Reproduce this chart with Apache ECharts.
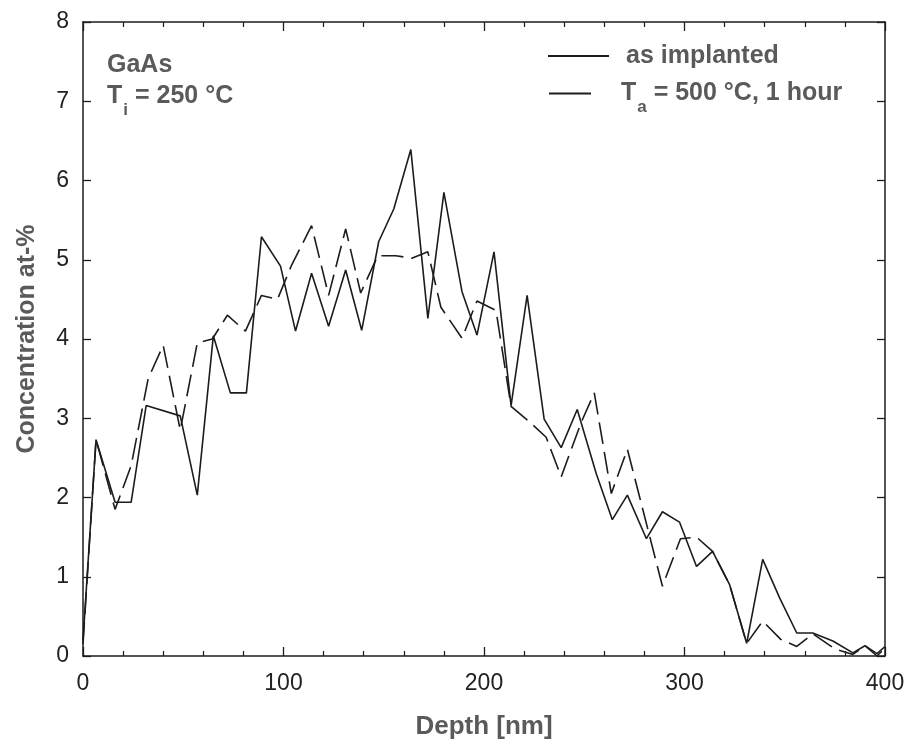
<!DOCTYPE html>
<html>
<head>
<meta charset="utf-8">
<script src="https://cdn.jsdelivr.net/npm/echarts@6/dist/echarts.min.js"></script>
<style>
html,body{margin:0;padding:0;background:#fff;}
#c{width:913px;height:745px;}
</style>
</head>
<body>
<div id="c"></div>
<script>
// Depth [nm] and concentration [at-%]
const asImplantedDepth = [0, 6.5, 16, 24, 31.5, 48.5, 57, 65, 73.5, 81.5, 89, 98.5, 106, 114, 122.5, 131, 139, 147.5, 155, 163.5, 172, 180, 189, 196.5, 205, 213.5, 221.5, 230, 238.5, 246.5, 256, 264, 271.5, 281, 289, 297.5, 306, 314, 322.5, 331, 339, 347.5, 356, 364, 374, 384, 390, 396, 400];
const asImplantedConc  = [0.2, 2.73, 1.94, 1.94, 3.16, 3.03, 2.03, 4.04, 3.32, 3.32, 5.29, 4.92, 4.1, 4.83, 4.16, 4.87, 4.11, 5.23, 5.64, 6.39, 4.26, 5.85, 4.6, 4.05, 5.1, 3.16, 4.55, 2.99, 2.63, 3.11, 2.3, 1.72, 2.03, 1.48, 1.82, 1.69, 1.13, 1.32, 0.9, 0.16, 1.22, 0.73, 0.29, 0.29, 0.19, 0.04, 0.13, 0.03, 0.12];

const annealedDepth = [0, 6.5, 16, 24, 32.5, 40, 48.5, 57, 64.5, 72, 81, 89, 97, 104, 114, 122.5, 131, 138.5, 147, 156, 164, 172, 178.5, 189, 196.5, 206, 213.5, 222, 231, 238.5, 248.5, 255, 263.5, 271.5, 289, 298, 306, 314, 322.5, 331, 339, 348, 356, 364, 375, 384, 390, 396, 400];
const annealedConc  = [0.15, 2.73, 1.85, 2.4, 3.5, 3.92, 2.85, 3.95, 4.0, 4.3, 4.1, 4.55, 4.5, 4.93, 5.43, 4.55, 5.39, 4.58, 5.05, 5.05, 5.02, 5.1, 4.4, 4.01, 4.48, 4.36, 3.15, 2.97, 2.76, 2.26, 2.95, 3.32, 2.05, 2.61, 0.88, 1.48, 1.5, 1.32, 0.9, 0.16, 0.44, 0.21, 0.12, 0.28, 0.09, 0.02, 0.13, 0.0, 0.1];

const seriesNames = ['as implanted', 'annealed'];
const xTicks = {min: 0, max: 400, interval: 100};
const yTicks = {min: 0, max: 8, interval: 1};

const FONT = '"Liberation Sans", Arial, sans-serif';
const GRAY = '#5a5a5a';
const INK = '#1c1c1c';

function pairs(xs, ys) { return xs.map((x, i) => [x, ys[i]]); }

const richMain = {fontSize: 25, fontWeight: 'bold', color: GRAY, fontFamily: FONT, lineHeight: 30, verticalAlign: 'middle'};
const richSub = {fontSize: 17, fontWeight: 'bold', color: GRAY, fontFamily: FONT, lineHeight: 17, verticalAlign: 'middle', padding: [28, 0, 0, 1]};

const baseX = {
  type: 'value', min: xTicks.min, max: xTicks.max, interval: xTicks.interval,
  axisLine: {show: true, onZero: false, lineStyle: {color: INK, width: 1.5}},
  axisTick: {show: true, inside: true, length: 9, lineStyle: {color: INK, width: 1.3}},
  minorTick: {show: true, splitNumber: 5, length: 5, lineStyle: {color: INK, width: 1.2}},
  splitLine: {show: false}, minorSplitLine: {show: false}
};
const baseY = {
  type: 'value', min: yTicks.min, max: yTicks.max, interval: yTicks.interval,
  axisLine: {show: true, onZero: false, lineStyle: {color: INK, width: 1.5}},
  axisTick: {show: true, inside: true, length: 8, lineStyle: {color: INK, width: 1.3}},
  splitLine: {show: false}
};

const option = {
  backgroundColor: '#ffffff',
  animation: false,
  grid: {left: 83, right: 28, top: 22, bottom: 85},
  title: [
    {text: 'GaAs', left: 107, top: 50, padding: 0,
     textStyle: {fontSize: 25, fontWeight: 'bold', color: GRAY, fontFamily: FONT, lineHeight: 30}},
    {text: '{m|T}{s|i}{m| = 250 °C}', left: 107, top: 81, padding: 0,
     textStyle: {rich: {m: richMain, s: richSub}}}
  ],
  legend: [
    {data: [seriesNames[0]], left: 547, top: 41, orient: 'vertical', padding: 0,
     itemWidth: 61, itemHeight: 30,
     itemStyle: {opacity: 0},
     textStyle: {fontSize: 25, fontWeight: 'bold', color: GRAY, fontFamily: FONT, lineHeight: 30, padding: [0, 0, 0, 12]}},
    {data: [seriesNames[1]], left: 548, top: 71, orient: 'vertical', padding: 0,
     itemWidth: 42, itemHeight: 30,
     itemStyle: {opacity: 0},
     lineStyle: {type: 'solid'},
     formatter: function () { return '{m|T}{s|a}{m| = 500 °C, 1 hour}'; },
     textStyle: {padding: [0, 0, 0, 25], rich: {m: richMain, s: richSub}}}
  ],
  xAxis: [
    Object.assign({}, baseX, {
      position: 'bottom',
      name: 'Depth [nm]', nameLocation: 'middle', nameGap: 58,
      nameTextStyle: {fontSize: 26, fontWeight: 'bold', color: GRAY, fontFamily: FONT},
      axisLabel: {show: true, margin: 16, fontSize: 23, color: '#222', fontFamily: FONT}
    }),
    Object.assign({}, baseX, {position: 'top', axisLabel: {show: false}})
  ],
  yAxis: [
    Object.assign({}, baseY, {
      position: 'left',
      name: 'Concentration at-%', nameLocation: 'middle', nameGap: 43, nameRotate: 90,
      nameTextStyle: {fontSize: 25, fontWeight: 'bold', color: GRAY, fontFamily: FONT},
      axisLabel: {show: true, margin: 14, fontSize: 23, color: '#222', fontFamily: FONT}
    }),
    Object.assign({}, baseY, {position: 'right', axisLabel: {show: false}})
  ],
  series: [
    {name: seriesNames[0], type: 'line', xAxisIndex: 0, yAxisIndex: 0,
     data: pairs(asImplantedDepth, asImplantedConc), symbol: 'none',
     lineStyle: {color: INK, width: 1.6, type: 'solid'}, itemStyle: {color: INK}},
    {name: seriesNames[1], type: 'line', xAxisIndex: 0, yAxisIndex: 0,
     data: pairs(annealedDepth, annealedConc), symbol: 'none',
     lineStyle: {color: INK, width: 1.6, type: [22, 8]}, itemStyle: {color: INK}}
  ]
};

const chart = echarts.init(document.getElementById('c'), null, {renderer: 'canvas'});
chart.setOption(option);
</script>
</body>
</html>
